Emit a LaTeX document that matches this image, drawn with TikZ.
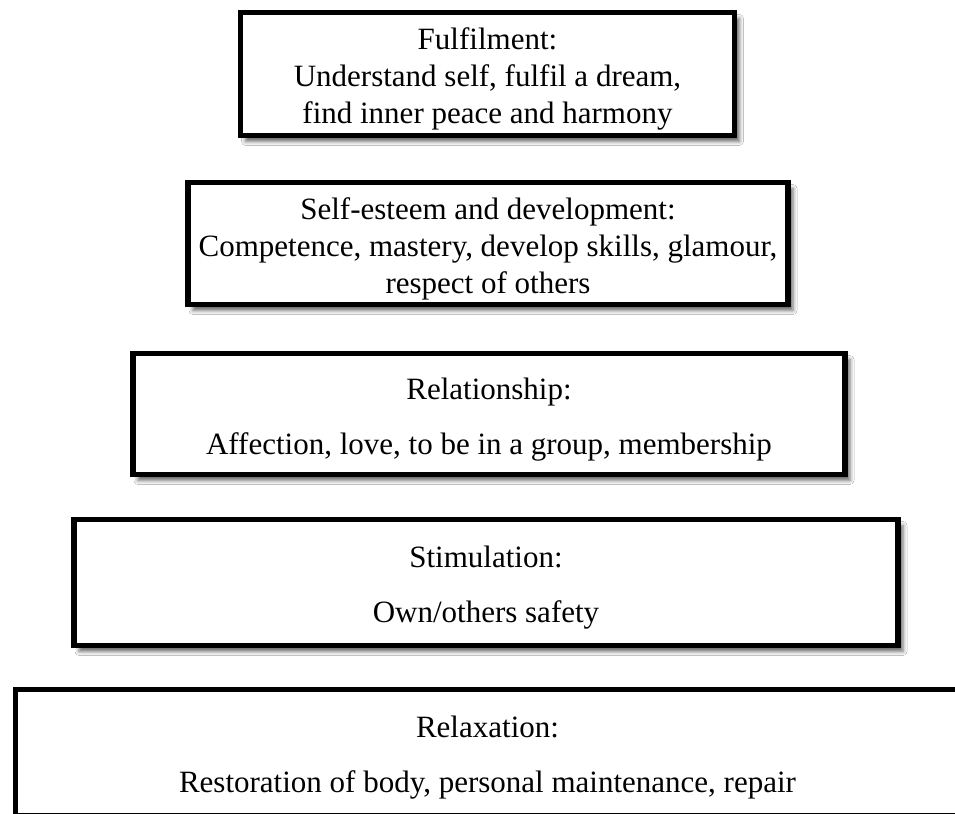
\documentclass[tikz,border=0pt]{standalone}
\usepackage{fontspec}
\setmainfont{Liberation Serif}
\usepackage{tikz}
\usetikzlibrary{shadows.blur}

% pushes the text of a tier a little below the middle
\newcommand{\tiertop}{\rule{0pt}{16pt}}

\begin{document}
\begin{tikzpicture}[x=0.5pt,y=-0.5pt,every node/.style={inner sep=0pt, outer sep=0pt, align=center, font=\fontsize{15.5}{18.5}\selectfont},
  tier/.style={draw=black, fill=white, line width=2.6pt, blur shadow={shadow xshift=2.5pt, shadow yshift=-3pt, shadow blur radius=2pt, shadow opacity=60}}]
\useasboundingbox (0,0) rectangle (955,814);
\clip (0,0) rectangle (955,814);
\fill[white] (0,0) rectangle (955,814);
% levels, top to bottom
\node[tier, minimum width=247pt, minimum height=61.5pt] (fulfil) at (487.5,74) {\tiertop Fulfilment:\\Understand self, fulfil a dream,\\find inner peace and harmony};
\node[tier, minimum width=300pt, minimum height=61pt] (esteem) at (488,243.5) {\tiertop Self-esteem and development:\\Competence, mastery, develop skills, glamour,\\respect of others};
\node[tier, minimum width=356pt, minimum height=60.5pt] (relation) at (489,414) {\tiertop Relationship:\\[9pt]Affection, love, to be in a group, membership};
\node[tier, minimum width=412pt, minimum height=63pt] (stimul) at (486,582.5) {\tiertop Stimulation:\\[9pt]Own/others safety};
\node[tier, minimum width=472pt, minimum height=63pt] (relax) at (487.5,752.5) {\tiertop Relaxation:\\[9pt]Restoration of body, personal maintenance, repair};
\end{tikzpicture}
\end{document}
